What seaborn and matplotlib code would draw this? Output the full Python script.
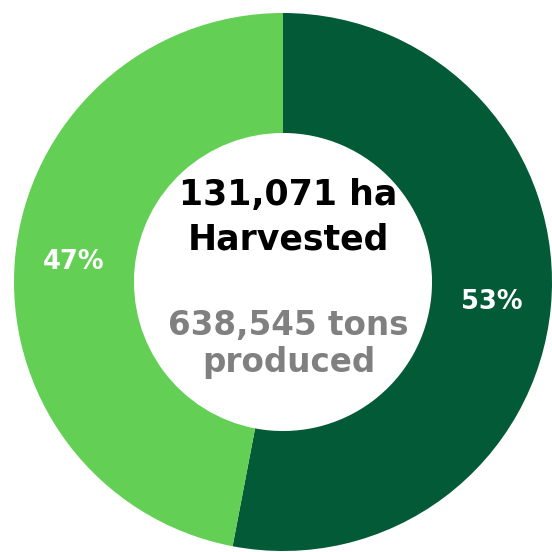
import matplotlib
matplotlib.use("Agg")
import matplotlib.pyplot as plt
import seaborn as sns

sns.set_style("white")
plt.rcParams["font.family"] = ["DejaVu Sans"]

# Share of harvested area
segments = ["Segment A", "Segment B"]
shares = [53, 47]
colors = ["#035a37", "#63cf54"]

area_text = ["131,071 ha", "Harvested"]
production_text = ["638,545 tons", "produced"]

fig = plt.figure(figsize=(5.52, 5.52), dpi=100)
ax = fig.add_axes([0, 0, 1, 1])

wedges, texts, autotexts = ax.pie(
    shares,
    colors=colors,
    startangle=90,
    counterclock=False,
    radius=1.0,
    wedgeprops=dict(width=0.446, linewidth=0),
    autopct=lambda p: f"{p:.0f}%",
    pctdistance=0.78,
    textprops=dict(color="white", fontsize=18.5, fontweight="bold"),
)

# Centre annotation
ax.text(0.02, 0.286, area_text[0], ha="center", va="baseline",
        fontsize=25, fontweight="bold", color="black")
ax.text(0.02, 0.119, area_text[1], ha="center", va="baseline",
        fontsize=25, fontweight="bold", color="black")
ax.text(0.02, -0.197, production_text[0], ha="center", va="baseline",
        fontsize=23.5, fontweight="bold", color="#808080")
ax.text(0.02, -0.335, production_text[1], ha="center", va="baseline",
        fontsize=23.5, fontweight="bold", color="#808080")

ax.set_xlim(-283 / 269, 269 / 269)
ax.set_ylim(-270 / 269, 282 / 269)
ax.set_aspect("equal")
ax.axis("off")

fig.savefig("out.png", dpi=100, facecolor="white")
